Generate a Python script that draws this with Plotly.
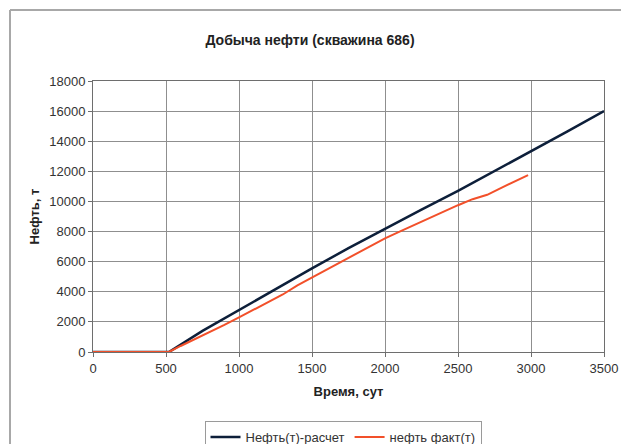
import plotly.graph_objects as go

# Расчет (calculated)
calc_t = [0, 520, 750, 1000, 1250, 1500, 1750, 2000, 2250, 2500, 2750, 3000, 3250, 3500]
calc_oil = [0, 0, 1400, 2800, 4200, 5550, 6900, 8200, 9450, 10700, 12000, 13350, 14650, 16000]

# Факт (actual)
fact_t = [0, 520, 600, 700, 800, 900, 1000, 1100, 1200, 1300, 1400, 1500, 1600, 1700, 1800,
          1900, 2000, 2100, 2200, 2300, 2400, 2500, 2600, 2650, 2700, 2800, 2900, 2980]
fact_oil = [0, 0, 400, 850, 1320, 1800, 2300, 2800, 3330, 3820, 4430, 4950, 5480, 6000, 6540,
            7040, 7550, 8000, 8450, 8900, 9330, 9750, 10150, 10320, 10440, 10920, 11370, 11750]

x_ticks = [0, 500, 1000, 1500, 2000, 2500, 3000, 3500]
y_ticks = [0, 2000, 4000, 6000, 8000, 10000, 12000, 14000, 16000, 18000]

FONT = "Liberation Sans, Arial, sans-serif"

fig = go.Figure()
fig.add_trace(go.Scatter(x=calc_t, y=calc_oil, mode="lines", name="Нефть(т)-расчет",
                         line=dict(color="#0d1f3a", width=2.5)))
fig.add_trace(go.Scatter(x=fact_t, y=fact_oil, mode="lines", name="нефть факт(т)",
                         line=dict(color="#f2502a", width=2)))

W, H = 621, 444
L, T = 93, 81
R = W - 604
B = H - 352
pw, ph = W - L - R, H - T - B

def px(x):
    return (x - L) / pw

def py(y):
    return (H - B - y) / ph

fig.update_layout(
    width=W, height=H,
    margin=dict(l=L, r=R, t=T, b=B, autoexpand=False),
    paper_bgcolor="white", plot_bgcolor="white",
    font=dict(family=FONT, size=13, color="#333333"),
    title=dict(text="<b>Добыча нефти (скважина 686)</b>", x=310 / W, xref="container",
               y=1 - 40 / H, yref="container", xanchor="center", yanchor="middle",
               font=dict(size=14, color="#222222")),
    showlegend=True,
    legend=dict(orientation="h", x=px(343), xanchor="center", y=py(437), yanchor="middle",
                bordercolor="#9a9a9a", borderwidth=1, font=dict(size=13, color="#333333"),
                itemwidth=30, tracegroupgap=0),
    xaxis=dict(range=[0, 3500], tickvals=x_ticks, ticktext=[str(v) for v in x_ticks],
               showgrid=True, gridcolor="#8f8f8f", gridwidth=1, zeroline=False,
               showline=True, linecolor="#6e6e6e", linewidth=1, mirror=True,
               ticks="outside", ticklen=4, tickcolor="#6e6e6e", automargin=False,
               title=dict(text="<b>Время, сут</b>", font=dict(size=13, color="#222222"), standoff=12)),
    yaxis=dict(range=[0, 18000], tickvals=y_ticks, ticktext=[str(v) for v in y_ticks],
               showgrid=True, gridcolor="#8f8f8f", gridwidth=1, zeroline=False,
               showline=True, linecolor="#6e6e6e", linewidth=1, mirror=True,
               ticks="outside", ticklen=4, tickcolor="#6e6e6e", automargin=False,
               title=dict(text="<b>Нефть, т</b>", font=dict(size=13, color="#222222"), standoff=6)),
)

# outer chart frame (only its top and left edges fall inside the picture)
frame = dict(color="#a8a8a8", width=2)
fig.add_shape(type="line", xref="paper", yref="paper",
              x0=px(10), y0=py(10), x1=px(621), y1=py(10), line=frame, layer="below")
fig.add_shape(type="line", xref="paper", yref="paper",
              x0=px(10), y0=py(10), x1=px(10), y1=py(444), line=frame, layer="below")

fig.write_html(
    "out.html",
    config={"displayModeBar": False},
    post_script=("document.documentElement.style.overflow='hidden';"
                 "document.body.style.margin='0';document.body.style.overflow='hidden';"),
)
